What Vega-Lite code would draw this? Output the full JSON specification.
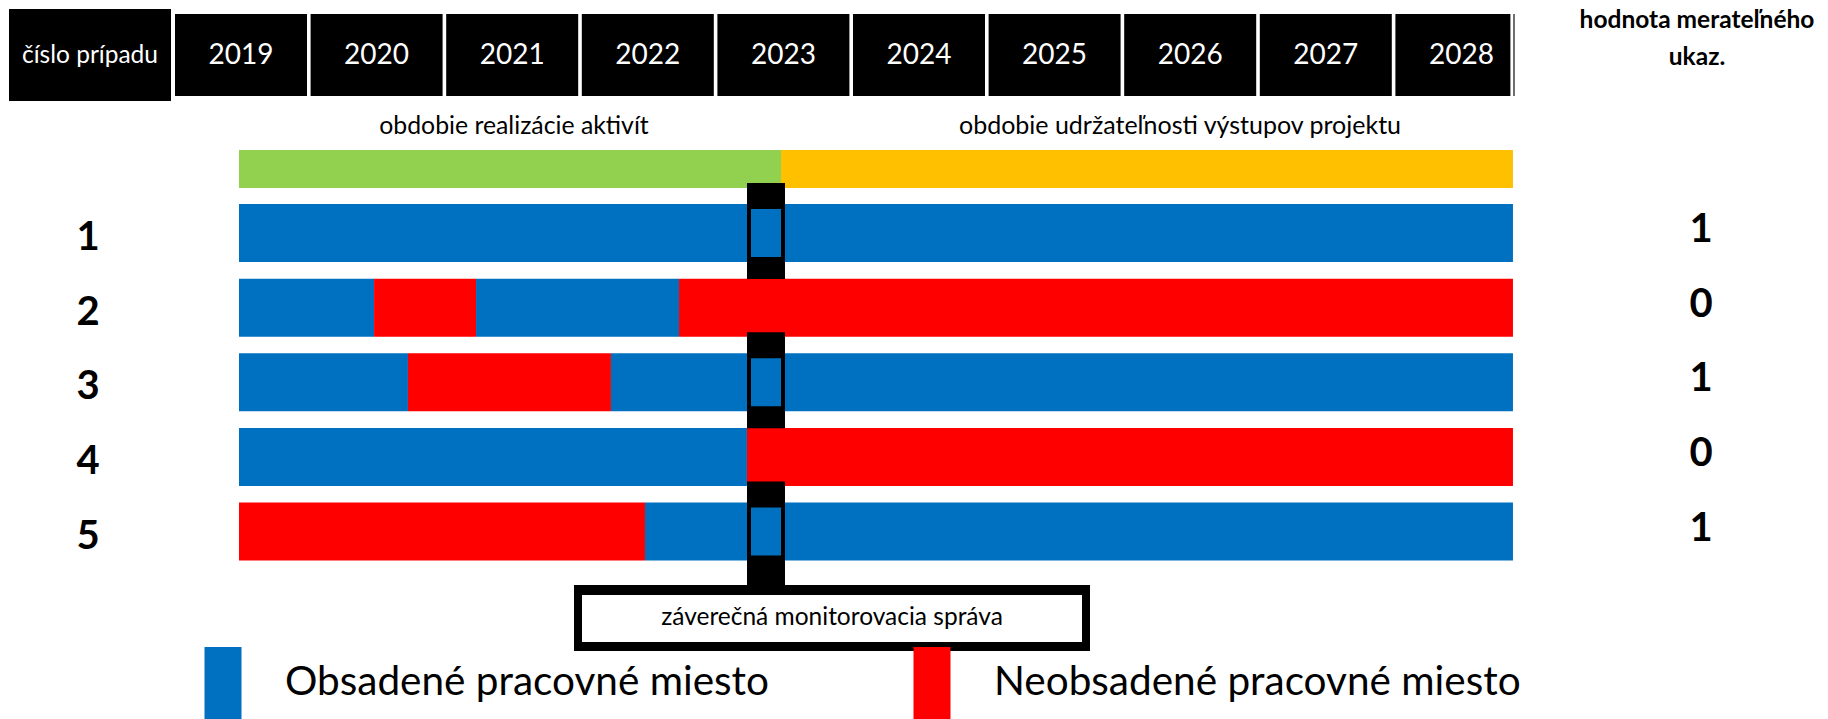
{
  "$schema": "https://vega.github.io/schema/vega-lite/v6.json",
  "width": 1828,
  "height": 719,
  "autosize": {"type": "none"},
  "padding": 0,
  "background": "white",
  "config": {"view": {"stroke": null}, "font": "Lato"},
  "datasets": {
    "segments": [
      {"case": 1, "status": "Obsadené pracovné miesto", "from": 2019.472, "to": 2028.867},
      {"case": 2, "status": "Obsadené pracovné miesto", "from": 2019.472, "to": 2020.468},
      {"case": 2, "status": "Neobsadené pracovné miesto", "from": 2020.468, "to": 2021.22},
      {"case": 2, "status": "Obsadené pracovné miesto", "from": 2021.22, "to": 2022.717},
      {"case": 2, "status": "Neobsadené pracovné miesto", "from": 2022.717, "to": 2028.867},
      {"case": 3, "status": "Obsadené pracovné miesto", "from": 2019.472, "to": 2020.718},
      {"case": 3, "status": "Neobsadené pracovné miesto", "from": 2020.718, "to": 2022.215},
      {"case": 3, "status": "Obsadené pracovné miesto", "from": 2022.215, "to": 2028.867},
      {"case": 4, "status": "Obsadené pracovné miesto", "from": 2019.472, "to": 2023.218},
      {"case": 4, "status": "Neobsadené pracovné miesto", "from": 2023.218, "to": 2028.867},
      {"case": 5, "status": "Neobsadené pracovné miesto", "from": 2019.472, "to": 2022.466},
      {"case": 5, "status": "Obsadené pracovné miesto", "from": 2022.466, "to": 2028.867}
    ],
    "cases": [
      {"case": 1, "value": 1},
      {"case": 2, "value": 0},
      {"case": 3, "value": 1},
      {"case": 4, "value": 0},
      {"case": 5, "value": 1}
    ],
    "years": [
      {"year": 2019}, {"year": 2020}, {"year": 2021}, {"year": 2022}, {"year": 2023},
      {"year": 2024}, {"year": 2025}, {"year": 2026}, {"year": 2027}, {"year": 2028}
    ],
    "periods": [
      {"period": "obdobie realizácie aktivít", "from": 2019.472, "to": 2023.469},
      {"period": "obdobie udržateľnosti výstupov projektu", "from": 2023.469, "to": 2028.867}
    ],
    "report": [
      {"case": 1}, {"case": 3}, {"case": 5}
    ]
  },
  "layer": [
    {
      "data": {"values": [{"label": "číslo prípadu"}]},
      "mark": {"type": "rect", "color": "#000000"},
      "encoding": {
        "x": {"datum": 2017.7758, "type": "quantitative", "scale": {"domain": [2017.7094, 2031.1903], "nice": false, "zero": false}, "axis": null},
        "x2": {"datum": 2018.9705},
        "y": {"datum": -2.004, "type": "quantitative", "scale": {"domain": [-2.1247, 7.5134], "reverse": true, "nice": false, "zero": false}, "axis": null},
        "y2": {"datum": -0.7708}
      }
    },
    {
      "data": {"values": [{"label": "číslo prípadu"}]},
      "mark": {"type": "text", "color": "#ffffff", "fontSize": 24.5, "align": "center", "baseline": "alphabetic", "font": "Lato"},
      "encoding": {
        "x": {"datum": 2018.3732, "type": "quantitative"},
        "y": {"datum": -1.2802, "type": "quantitative"},
        "text": {"field": "label", "type": "nominal"}
      }
    },
    {
      "data": {"name": "years"},
      "transform": [{"filter": "datum.year < 2028"}],
      "mark": {"type": "rect", "color": "#000000", "x2Offset": 132},
      "encoding": {
        "x": {"field": "year", "type": "quantitative"},
        "x2": {"field": "year"},
        "y": {"datum": -1.937, "type": "quantitative"},
        "y2": {"datum": -0.8378}
      }
    },
    {
      "data": {"name": "years"},
      "transform": [{"filter": "datum.year == 2028"}],
      "mark": {"type": "rect", "color": "#000000", "x2Offset": 115},
      "encoding": {
        "x": {"field": "year", "type": "quantitative"},
        "x2": {"field": "year"},
        "y": {"datum": -1.937, "type": "quantitative"},
        "y2": {"datum": -0.8378}
      }
    },
    {
      "data": {"name": "years"},
      "mark": {"type": "text", "color": "#ffffff", "fontSize": 28, "align": "center", "baseline": "alphabetic", "dx": 66, "font": "Lato"},
      "encoding": {
        "x": {"field": "year", "type": "quantitative"},
        "y": {"datum": -1.2668, "type": "quantitative"},
        "text": {"field": "year", "type": "nominal"}
      }
    },
    {
      "data": {"values": [{"edge": "end"}]},
      "mark": {"type": "rule", "color": "#404040", "strokeWidth": 1.5},
      "encoding": {
        "x": {"datum": 2028.8746, "type": "quantitative"},
        "y": {"datum": -1.937, "type": "quantitative"},
        "y2": {"datum": -0.8378}
      }
    },
    {
      "data": {"name": "periods"},
      "mark": {"type": "rect"},
      "encoding": {
        "x": {"field": "from", "type": "quantitative"},
        "x2": {"field": "to"},
        "y": {"datum": -0.1139, "type": "quantitative"},
        "y2": {"datum": 0.3954},
        "color": {"field": "period", "type": "nominal", "scale": {"domain": ["obdobie realizácie aktivít", "obdobie udržateľnosti výstupov projektu"], "range": ["#92D050", "#FFC000"]}, "legend": null}
      }
    },
    {
      "data": {"values": [{"label": "obdobie realizácie aktivít"}]},
      "mark": {"type": "text", "color": "#000000", "fontSize": 24.8, "align": "center", "baseline": "alphabetic", "font": "Lato"},
      "encoding": {
        "x": {"datum": 2021.5, "type": "quantitative"},
        "y": {"datum": -0.3284, "type": "quantitative"},
        "text": {"field": "label", "type": "nominal"}
      }
    },
    {
      "data": {"values": [{"label": "obdobie udržateľnosti výstupov projektu"}]},
      "mark": {"type": "text", "color": "#000000", "fontSize": 25, "align": "center", "baseline": "alphabetic", "font": "Lato"},
      "encoding": {
        "x": {"datum": 2026.4115, "type": "quantitative"},
        "y": {"datum": -0.3284, "type": "quantitative"},
        "text": {"field": "label", "type": "nominal"}
      }
    },
    {
      "data": {"name": "segments"},
      "mark": {"type": "rect", "yOffset": -29, "y2Offset": 29},
      "encoding": {
        "x": {"field": "from", "type": "quantitative"},
        "x2": {"field": "to"},
        "y": {"field": "case", "type": "quantitative"},
        "y2": {"field": "case"},
        "color": {
          "field": "status",
          "type": "nominal",
          "scale": {"domain": ["Obsadené pracovné miesto", "Neobsadené pracovné miesto"], "range": ["#0070C0", "#FF0000"]},
          "legend": {
            "title": null,
            "orient": "none",
            "legendX": 187,
            "legendY": 647,
            "direction": "horizontal",
            "columns": 2,
            "symbolType": "M-0.514,-1H0.514V1H-0.514Z",
            "symbolSize": 5184,
            "symbolStrokeWidth": 0,
            "symbolOpacity": 1,
            "labelFontSize": 40.5,
            "labelFont": "Lato",
            "labelColor": "#000000",
            "labelOffset": 26,
            "labelLimit": 1000,
            "columnPadding": 127,
            "padding": 0
          }
        }
      }
    },
    {
      "data": {"name": "report"},
      "mark": {"type": "rect", "color": "#000000", "xOffset": -19, "x2Offset": 19, "yOffset": -50, "y2Offset": 46},
      "encoding": {
        "x": {"datum": 2023.3584, "type": "quantitative"},
        "x2": {"datum": 2023.3584},
        "y": {"field": "case", "type": "quantitative"},
        "y2": {"field": "case"}
      }
    },
    {
      "data": {"values": [{"label": "záverečná monitorovacia správa"}]},
      "mark": {"type": "rect", "color": "#000000", "xOffset": -19, "x2Offset": 19},
      "encoding": {
        "x": {"datum": 2023.3584, "type": "quantitative"},
        "x2": {"datum": 2023.3584},
        "y": {"datum": 5, "type": "quantitative"},
        "y2": {"datum": 5.7172}
      }
    },
    {
      "data": {"name": "report"},
      "mark": {"type": "rect", "color": "#0070C0", "xOffset": -15, "x2Offset": 15, "yOffset": -24, "y2Offset": 24},
      "encoding": {
        "x": {"datum": 2023.3584, "type": "quantitative"},
        "x2": {"datum": 2023.3584},
        "y": {"field": "case", "type": "quantitative"},
        "y2": {"field": "case"}
      }
    },
    {
      "data": {"values": [{"label": "záverečná monitorovacia správa"}]},
      "mark": {"type": "rect", "color": "#000000"},
      "encoding": {
        "x": {"datum": 2021.9425, "type": "quantitative"},
        "x2": {"datum": 2025.7478},
        "y": {"datum": 5.7172, "type": "quantitative"},
        "y2": {"datum": 6.6019}
      }
    },
    {
      "data": {"values": [{"label": "záverečná monitorovacia správa"}]},
      "mark": {"type": "rect", "color": "#ffffff"},
      "encoding": {
        "x": {"datum": 2022.0015, "type": "quantitative"},
        "x2": {"datum": 2025.6888},
        "y": {"datum": 5.8512, "type": "quantitative"},
        "y2": {"datum": 6.4812}
      }
    },
    {
      "data": {"values": [{"label": "záverečná monitorovacia správa"}]},
      "mark": {"type": "text", "color": "#000000", "fontSize": 24.5, "align": "center", "baseline": "alphabetic", "font": "Lato"},
      "encoding": {
        "x": {"datum": 2023.8451, "type": "quantitative"},
        "y": {"datum": 6.2534, "type": "quantitative"},
        "text": {"field": "label", "type": "nominal"}
      }
    },
    {
      "data": {"name": "cases"},
      "mark": {"type": "text", "color": "#000000", "fontSize": 40, "fontWeight": "bold", "align": "center", "baseline": "alphabetic", "dy": 17, "font": "Lato"},
      "encoding": {
        "x": {"datum": 2018.3584, "type": "quantitative"},
        "y": {"field": "case", "type": "quantitative"},
        "text": {"field": "case", "type": "nominal"}
      }
    },
    {
      "data": {"name": "cases"},
      "mark": {"type": "text", "color": "#000000", "fontSize": 40, "fontWeight": "bold", "align": "center", "baseline": "alphabetic", "dy": 9, "font": "Lato"},
      "encoding": {
        "x": {"datum": 2030.2537, "type": "quantitative"},
        "y": {"field": "case", "type": "quantitative"},
        "text": {"field": "value", "type": "nominal"}
      }
    },
    {
      "data": {"values": [{"label": "hodnota merateľného"}]},
      "mark": {"type": "text", "color": "#000000", "fontSize": 24.5, "fontWeight": "bold", "align": "center", "baseline": "alphabetic", "font": "Lato"},
      "encoding": {
        "x": {"datum": 2030.2242, "type": "quantitative"},
        "y": {"datum": -1.7493, "type": "quantitative"},
        "text": {"field": "label", "type": "nominal"}
      }
    },
    {
      "data": {"values": [{"label": "ukaz."}]},
      "mark": {"type": "text", "color": "#000000", "fontSize": 24.5, "fontWeight": "bold", "align": "center", "baseline": "alphabetic", "font": "Lato"},
      "encoding": {
        "x": {"datum": 2030.2242, "type": "quantitative"},
        "y": {"datum": -1.2534, "type": "quantitative"},
        "text": {"field": "label", "type": "nominal"}
      }
    }
  ],
  "resolve": {"scale": {"color": "independent"}}
}
